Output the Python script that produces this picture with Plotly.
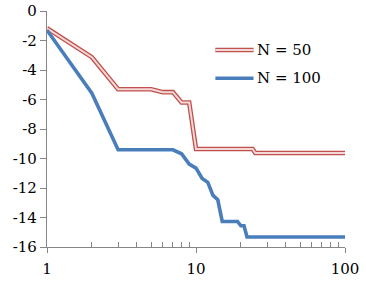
import plotly.graph_objects as go

# ---- data ----
x_n50 = [1, 2, 3, 5, 6, 7, 8, 9, 10, 24, 25, 100]
y_n50 = [-1.17, -3.13, -5.3, -5.3, -5.5, -5.5, -6.2, -6.2, -9.36, -9.36, -9.63, -9.63]

x_n100 = [1, 2, 3, 7, 8, 9, 10, 11, 12, 13, 14, 15, 19, 20, 21, 22, 100]
y_n100 = [-1.3, -5.57, -9.41, -9.41, -9.68, -10.38, -10.65, -11.35, -11.62, -12.5,
          -12.8, -14.27, -14.27, -14.56, -14.56, -15.32, -15.32]

series_names = ["N = 50", "N = 100"]

x_tickvals = [1, 10, 100]
x_ticktext = ["1", "10", "100"]
x_minor = [2, 3, 4, 5, 6, 7, 8, 9, 20, 30, 40, 50, 60, 70, 80, 90]
y_tickvals = [0, -2, -4, -6, -8, -10, -12, -14, -16]
y_ticktext = ["0", "-2", "-4", "-6", "-8", "-10", "-12", "-14", "-16"]

RED = "#C0504D"
RED_IN = "#F2D9D8"
BLUE = "#4A7EBB"
AXIS = "#868686"
FONT = "DejaVu Serif"

fig = go.Figure()
fig.add_trace(go.Scatter(x=x_n50, y=y_n50, mode="lines", name=series_names[0],
                         line=dict(color=RED, width=4.6), showlegend=False))
fig.add_trace(go.Scatter(x=x_n50, y=y_n50, mode="lines", name=series_names[0],
                         line=dict(color=RED_IN, width=2.0), showlegend=False,
                         hoverinfo="skip"))
fig.add_trace(go.Scatter(x=x_n100, y=y_n100, mode="lines", name=series_names[1],
                         line=dict(color=BLUE, width=3.6), showlegend=False))

# manual legend (double line for N = 50)
leg_x0, leg_x1, leg_tx = 0.565, 0.693, 0.699
leg_y = [0.835, 0.715]
fig.add_shape(type="line", xref="paper", yref="paper", x0=leg_x0, x1=leg_x1,
              y0=leg_y[0], y1=leg_y[0], line=dict(color=RED, width=4.6))
fig.add_shape(type="line", xref="paper", yref="paper", x0=leg_x0, x1=leg_x1,
              y0=leg_y[0], y1=leg_y[0], line=dict(color=RED_IN, width=2.0))
fig.add_shape(type="line", xref="paper", yref="paper", x0=leg_x0, x1=leg_x1,
              y0=leg_y[1], y1=leg_y[1], line=dict(color=BLUE, width=3.6))
for name, yy in zip(series_names, leg_y):
    fig.add_annotation(x=leg_tx, y=yy, xref="paper", yref="paper", text=name,
                       showarrow=False, xanchor="left", yanchor="middle",
                       font=dict(family=FONT, size=15, color="black"))

fig.update_layout(
    width=366, height=282,
    margin=dict(l=47, r=21, t=11, b=35, autoexpand=False),
    paper_bgcolor="white", plot_bgcolor="white",
    font=dict(family=FONT, size=15, color="black"),
    showlegend=False,
)
fig.update_xaxes(
    type="log", range=[0, 2], automargin=False,
    showline=True, linecolor=AXIS, linewidth=1.3,
    showgrid=False, zeroline=False,
    tickmode="array", tickvals=x_tickvals, ticktext=x_ticktext,
    ticks="outside", ticklen=5, tickcolor=AXIS, tickwidth=1.3,
    ticklabelstandoff=3,
    minor=dict(tickmode="array", tickvals=x_minor, ticks="inside", ticklen=5,
               tickcolor=AXIS, tickwidth=1.3, showgrid=False),
)
fig.update_yaxes(
    range=[-16, 0], automargin=False,
    showline=True, linecolor=AXIS, linewidth=1.3,
    showgrid=False, zeroline=False,
    tickmode="array", tickvals=y_tickvals, ticktext=y_ticktext,
    ticks="outside", ticklen=6, tickcolor=AXIS, tickwidth=1.3,
)

# remove the page's default 8px body margin so the figure sits at (0, 0)
fig.write_html("out.html",
               config={"displayModeBar": False},
               post_script="document.body.style.margin='0px';")
